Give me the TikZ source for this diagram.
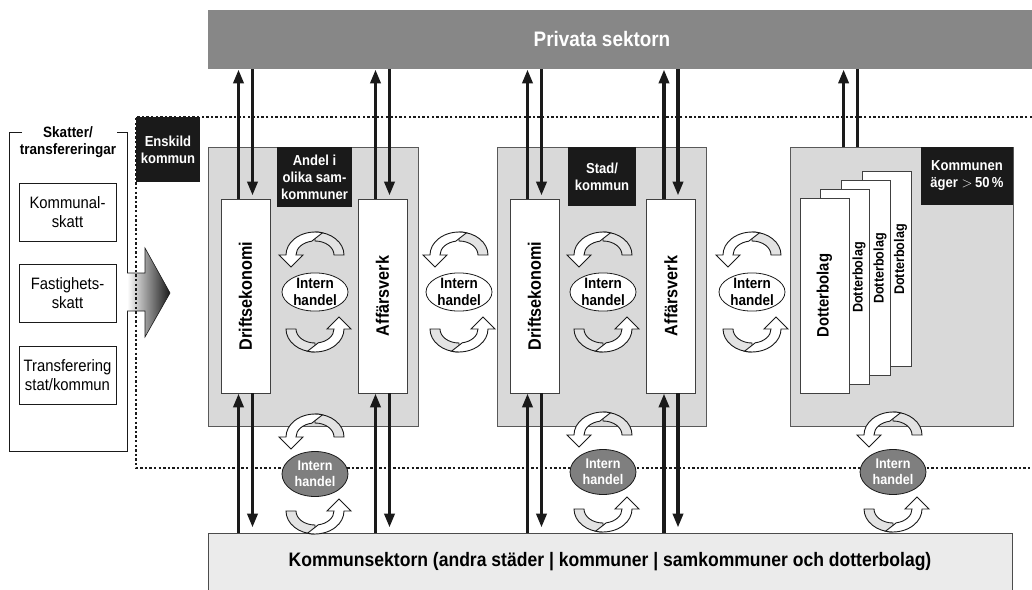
\documentclass[tikz,border=0pt]{standalone}
\usepackage{fontspec}
\setmainfont{Liberation Sans}[FakeStretch=0.9]
\usepackage{graphicx}
\usepackage{xcolor}
\definecolor{ink}{HTML}{1A1A1A}
\definecolor{privgray}{HTML}{878787}
\definecolor{unitgray}{HTML}{D9D9D9}
\definecolor{sectorgray}{HTML}{EBEBEB}
\definecolor{tradegray}{HTML}{7F7F7F}
\definecolor{backface}{HTML}{E3E3E3}
\usetikzlibrary{arrows.meta, shapes.geometric, positioning, calc}
\tikzset{
  >={Triangle[length=14pt, width=10pt]},
  sectorbox/.style={inner sep=0pt, line width=0.8pt},
  unitbox/.style={draw=black!65, fill=unitgray, line width=0.8pt, minimum height=279pt, inner sep=0pt},
  tagbox/.style={fill=ink, text=white, align=center, inner sep=0pt,
    font=\fontsize{14.5}{17}\selectfont\bfseries},
  partbox/.style={draw=black!75, fill=white, line width=0.8pt, minimum width=49pt,
    minimum height=194pt, inner sep=0pt, font=\fontsize{18}{20}\selectfont\bfseries},
  taxbox/.style={draw=ink, fill=white, line width=0.9pt, minimum width=97pt, minimum height=58pt,
    inner sep=0pt, align=center, font=\fontsize{16.5}{19}\selectfont},
  taxframe/.style={draw=ink, line width=0.9pt},
  trade/.style={ellipse, draw=ink, fill=white, line width=0.8pt, minimum width=66pt,
    minimum height=38pt, inner sep=0pt, align=center, font=\fontsize{15}{16.5}\selectfont\bfseries},
  tradeout/.style={trade, fill=tradegray, text=white, minimum height=45pt,
    font=\fontsize{14}{16}\selectfont\bfseries},
  regionline/.style={draw=ink, line width=2.6pt, dash pattern=on 2.4pt off 2.2pt},
  flow/.style={->, draw=ink, line width=3.5pt},
  flowline/.style={draw=ink, line width=3.5pt},
  tradeloop/.pic={
    \path[draw=ink, fill=backface, line width=0.9pt]
      (0,-60) arc[start angle=270, end angle=360, x radius=29, y radius=23]
      -- (19,-37) arc[start angle=360, end angle=270, x radius=19, y radius=14] -- cycle;
    \path[draw=ink, fill=white, line width=0.9pt]
      (-19,-37) arc[start angle=180, end angle=260, x radius=19, y radius=14]
      -- (7.5,-59.2) arc[start angle=285, end angle=180, x radius=29, y radius=23]
      -- (-36,-37) -- (-24,-25) -- (-12,-37) -- cycle;
  },
}

\begin{document}
\begin{tikzpicture}[x=1pt, y=-1pt]
  \useasboundingbox (0,0) rectangle (1032,589);

  % Private and municipal sector.
  \node[sectorbox, fill=privgray, minimum width=824pt, minimum height=59pt] (priv) at (620,39.5) {};
  \node[text=white, font=\fontsize{21}{24}\selectfont\bfseries] (privtxt) at (602,39) {Privata sektorn};
  \node[sectorbox, draw=black!70, fill=sectorgray, minimum width=804pt, minimum height=57pt,
    font=\fontsize{19.5}{22}\selectfont\bfseries] (komm) at (610,561.5)
    {Kommunsektorn (andra städer | kommuner | samkommuner och dotterbolag)};

  % Taxes and transfers.
  \draw[taxframe] (22,132) -- (9,132) -- (9,451) -- (127,451) -- (127,311);
  \draw[taxframe] (127,273) -- (127,132) -- (117,132);
  \node[align=center, font=\fontsize{15}{16.5}\selectfont\bfseries] (skatt) at (68,142) {Skatter/\\transfereringar};
  \node[taxbox] (kskatt) at (67.5,212.5) {Kommunal-\\skatt};
  \node[taxbox] (fskatt) at (67.5,293) {Fastighets-\\skatt};
  \node[taxbox] (trans) at (67.5,375) {Transferering\\stat/kommun};
  \path[left color=white, right color=black!90, draw=ink, line width=0.6pt]
    (127,273) -- (145,273) -- (145,248) -- (170,293) -- (145,337) -- (145,311) -- (127,311);

  % The three units.
  \node[unitbox, minimum width=210pt] (g1) at (313,286.5) {};
  \node[unitbox, minimum width=209pt] (g2) at (601.5,286.5) {};
  \node[unitbox, minimum width=223pt] (g3) at (901.5,286.5) {};
  \node[tagbox, minimum width=64pt, minimum height=65pt] (enskild) at (168,149.5) {Enskild\\kommun};
  \node[tagbox, minimum width=75pt, minimum height=60pt] (andel) at (314.5,177) {Andel i\\olika sam-\\kommuner};
  \node[tagbox, minimum width=68pt, minimum height=59pt] (stad) at (602,176.5) {Stad/\\kommun};
  \node[tagbox, minimum width=92pt, minimum height=58pt] (agare) at (967,176) {Kommunen\\äger $>$\,50\,\%};

  \node[partbox] (drift1) at (245.5,296) {\rotatebox{90}{Driftsekonomi}};
  \node[partbox] (aff1) at (382.5,296) {\rotatebox{90}{Affärsverk}};
  \node[partbox] (drift2) at (534.5,296) {\rotatebox{90}{Driftsekonomi}};
  \node[partbox] (aff2) at (671,296) {\rotatebox{90}{Affärsverk}};

  \foreach \i/\x/\y in {4/886.5/268.5, 3/866/277.5, 2/845/286.5} {
    \node[partbox, minimum height=195pt] (dotter\i) at (\x,\y) {};
    \node[font=\fontsize{14}{16}\selectfont\bfseries] (dtxt\i) at ([xshift=-11pt, yshift=9pt]dotter\i.east)
      {\rotatebox{90}{Dotterbolag}};
  }
  \node[partbox, minimum height=195pt, font=\fontsize{16.5}{18}\selectfont\bfseries] (dotter1) at (824.5,295.5)
    {\rotatebox{90}{Dotterbolag}};

  % Border of the single municipality.
  \draw[regionline] (1032,117) -- (136,117) -- (136,468) -- (1032,468);

  % Internal trade.
  \foreach \n/\x in {e1/315, e12/459, e2/603, e23/752} {
    \node[trade] (\n) at (\x,292) {Intern\\handel};
    \pic at (\n) {tradeloop};
    \pic[rotate=180] at (\n) {tradeloop};
  }
  \foreach \n/\x/\y in {l1/315/474, l2/603/472, l3/893/472} {
    \node[tradeout] (\n) at (\x,\y) {Intern\\handel};
    \pic at (\n) {tradeloop};
    \pic[rotate=180] at (\n) {tradeloop};
  }

  % Flows to and from the sectors.
  \foreach \b in {drift1, aff1, drift2, aff2} {
    \coordinate (tl) at ([xshift=-7pt]\b.north);
    \coordinate (tr) at ([xshift=7pt]\b.north);
    \coordinate (bl) at ([xshift=-7pt]\b.south);
    \coordinate (br) at ([xshift=7pt]\b.south);
    \draw[flow] (tl) -- (tl |- priv.south);
    \draw[flow, shorten >=3pt] (tr |- priv.south) -- (tr);
    \draw[flow] (bl |- komm.north) -- (bl);
    \draw[flow, shorten >=5pt] (br) -- (br |- komm.north);
  }
  \coordinate (g3l) at ([xshift=54pt]g3.north west);
  \coordinate (g3r) at ([xshift=68pt]g3.north west);
  \draw[flow] (g3l) -- (g3l |- priv.south);
  \draw[flowline] (g3r) -- (g3r |- priv.south);
\end{tikzpicture}
\end{document}
